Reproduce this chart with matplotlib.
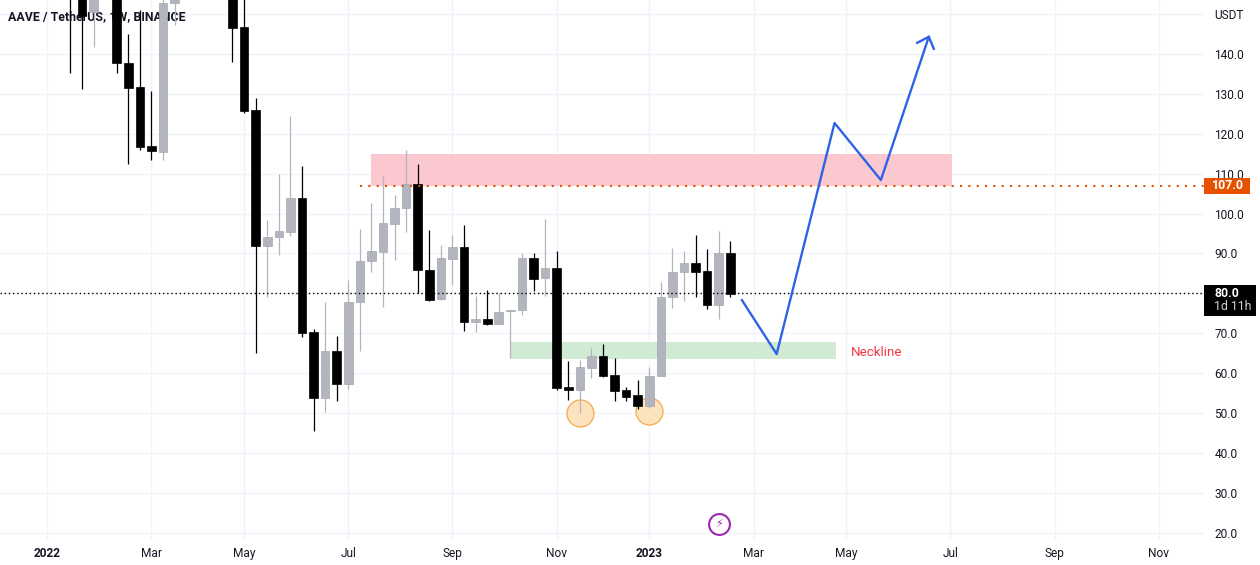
# -*- coding: utf-8 -*-
import pandas as pd
import matplotlib
matplotlib.use("Agg")
from matplotlib import pyplot as plt
from matplotlib import dates as mdates
from matplotlib.patches import Rectangle

plt.rcParams['font.family'] = ['Roboto', 'DejaVu Sans']

# weekly candles, the first ones and a few in the middle run above the visible range
first_week = '2022-01-17'
opens = [175, 160, 150.5, 170, 158, 137.7, 131.7, 116.9, 115.4, 152.8, 165, 170, 172, 170, 165, 146.8,
         126, 91.9, 94.1, 95.4, 103.9, 70.3, 53.8, 65.6, 57.3, 77.8, 88.1, 90.4, 97.4, 101.4, 107.4, 85.9,
         78.6, 88.6, 91.6, 72.8, 73.6, 72.3, 75.5, 75.8, 88.9, 83.9, 86.4, 56.5, 55.8, 61.3, 64.3, 59.5,
         55.8, 54.5, 51.8, 59.3, 79.1, 85.4, 87.6, 85.6, 77.1, 90.1]
highs = [178, 165, 160, 178, 162, 145, 151, 130.7, 158, 160, 178, 180, 180, 178, 170, 155,
         129, 98.4, 109.9, 124.4, 111.9, 71, 77.8, 69.3, 83.3, 96.1, 102.7, 109.4, 104.7, 115.9, 112.4, 95.9,
         92.1, 94.6, 97.1, 79.3, 80.8, 80.1, 75.8, 90.1, 90.1, 98.6, 90.6, 63, 63.3, 66.3, 67.3, 63.8,
         56.5, 58.3, 61.5, 82.8, 91.4, 90.6, 94.6, 91.1, 95.6, 93.1]
lows = [135.2, 131.2, 141.7, 155, 135.3, 112.4, 116, 113.4, 113.4, 147.3, 158, 160, 162, 160, 138, 125.2,
        65, 79.1, 89.6, 94.4, 69.1, 45.5, 50.3, 53, 56, 65.6, 85.4, 76.6, 88.4, 95.4, 80.1, 78.1,
        78.3, 82.1, 70.6, 70.3, 72.1, 72.3, 63.8, 74.6, 80.6, 79.3, 55.8, 53.3, 50, 58.8, 59, 53,
        53, 51, 51.3, 59.3, 76.3, 78.1, 79.1, 76.1, 73.6, 79.1]
closes = [165, 149.5, 158, 175, 137.7, 131.5, 116.7, 115.7, 152.8, 156, 160, 165, 170, 165, 146.5, 125.7,
          91.9, 94.1, 95.6, 103.9, 70.1, 53.8, 65.6, 57.3, 77.8, 88.1, 90.6, 97.6, 101.4, 107.4, 85.9, 78.3,
          88.9, 91.6, 72.8, 73.6, 72.3, 75.3, 75.8, 88.9, 83.6, 86.4, 56.3, 55.8, 61.5, 64.3, 59.3, 55.5,
          54, 51.8, 59.3, 79.1, 85.4, 87.6, 85.4, 77.1, 90.1, 79.9]

price_ticks = [20, 30, 40, 50, 60, 70, 80, 90, 100, 110, 120, 130, 140, 150]
price_labels = ['20.0', '30.0', '40.0', '50.0', '60.0', '70.0', '80.0', '90.0', '100.0', '110.0',
                '120.0', '130.0', '140.0', 'USDT']
date_ticks = ['2022-01-03', '2022-03-07', '2022-05-02', '2022-07-04', '2022-09-05', '2022-11-07',
              '2023-01-02', '2023-03-06', '2023-05-01', '2023-07-03', '2023-09-04', '2023-11-06']
date_labels = ['2022', 'Mar', 'May', 'Jul', 'Sep', 'Nov', '2023', 'Mar', 'May', 'Jul', 'Sep', 'Nov']

# drawings on top of the chart
projection_dates = ['2023-02-27', '2023-03-20', '2023-04-24', '2023-05-22', '2023-06-20']
projection_prices = [78.3, 64.8, 122.7, 108.4, 144.3]
arrow_dates = ['2023-06-13', '2023-06-20', '2023-06-23']
arrow_prices = [142.8, 144.3, 141.3]
resistance_dates = ['2022-07-18', '2023-07-04']
resistance_prices = [107, 115]
support_dates = ['2022-10-10', '2023-04-25']
support_prices = [63.5, 67.9]
level_start = '2022-07-11'
level_price = 107.0
last_price = 80.0
circle_dates = ['2022-11-21', '2023-01-02']
circle_prices = [50.0, 50.5]

GRAY = '#b2b5be'
BLACK = '#000000'


def num(d):
    return mdates.date2num(pd.Timestamp(d))


weeks = pd.date_range(first_week, periods=len(opens), freq='7D')

fig = plt.figure(figsize=(12.6, 5.65), dpi=100, facecolor='white')
ax = fig.add_axes([0, 1 - 540 / 565, 1204 / 1260, 540 / 565])

# 1.654 px per day, 2023-01-02 sits at x=649.3
ax.set_xlim(num('2023-01-02') - 649.3 / 1.654, num('2023-01-02') + (1204 - 649.3) / 1.654)
ax.set_ylim(18.19, 153.53)
for s in ax.spines.values():
    s.set_visible(False)

ax.set_xticks([num(d) for d in date_ticks])
ax.set_xticklabels(date_labels, fontsize=8.6, color='#131722')
for lbl in ax.get_xticklabels()[:1] + ax.get_xticklabels()[6:7]:
    lbl.set_fontweight('bold')
ax.set_yticks(price_ticks)
ax.set_yticklabels(price_labels, fontsize=8.6, color='#131722')
ax.yaxis.tick_right()
ax.tick_params(axis='both', length=0)
ax.tick_params(axis='x', pad=5)
ax.tick_params(axis='y', pad=7.5)
ax.grid(True, color='#f0f3fa', lw=1)
ax.set_axisbelow(True)

ax.add_patch(Rectangle((num(resistance_dates[0]), resistance_prices[0]),
                       num(resistance_dates[1]) - num(resistance_dates[0]),
                       resistance_prices[1] - resistance_prices[0],
                       facecolor='#fcc8d0', edgecolor='none', zorder=1))
ax.add_patch(Rectangle((num(support_dates[0]), support_prices[0]),
                       num(support_dates[1]) - num(support_dates[0]),
                       support_prices[1] - support_prices[0],
                       facecolor='#d0ead3', edgecolor='none', zorder=1))

ax.text(8 / 1204, 1 - 17 / 540, 'AAVE / TetherUS, 1W, BINANCE', transform=ax.transAxes,
        fontsize=8.9, fontweight='bold', color='#131722', va='center', ha='left', zorder=1.5)

ax.plot([num(d) for d in circle_dates], circle_prices, ls='none', marker='o', ms=19.4,
        mfc='#fde3bd', mec='#f2b05c', mew=1, zorder=1.6)

# candles
for w, o, h, l, c in zip(weeks, opens, highs, lows, closes):
    col = BLACK if c < o else GRAY
    x = mdates.date2num(w)
    ax.plot([x, x], [l, h], color=col, lw=0.9, zorder=3, solid_capstyle='butt')
    ax.add_patch(Rectangle((x - 2.6, min(o, c)), 5.2, abs(o - c), facecolor=col,
                           edgecolor='#a4a7b0' if col == GRAY else BLACK, lw=0.5, zorder=3.2))

# levels
ax.axhline(last_price, color='black', lw=1, ls=(0, (1, 2)), zorder=4)
ax.plot([num(level_start), ax.get_xlim()[1]], [level_price, level_price], color='#e65100',
        lw=1.5, ls=(0, (1, 3)), zorder=4)

# projection
ax.plot([num(d) for d in projection_dates], projection_prices, color='#2f62e6', lw=1.7, zorder=5)
ax.plot([num(d) for d in arrow_dates], arrow_prices, color='#2f62e6', lw=1.7, zorder=5)

ax.text(num('2023-05-04'), 65.3, 'Neckline', color='#f23645', fontsize=9.6, va='center', ha='left', zorder=5)

# lightning badge
ax.plot([num('2023-02-13')], [22.2], ls='none', marker='o', ms=15, mfc='white', mec='#9c27b0', mew=1.5, zorder=5)
ax.text(num('2023-02-13'), 22.2, '\u26a1', color='#9c27b0', fontsize=8, ha='center', va='center',
        family=['DejaVu Sans'], zorder=6)

# price labels on the right
yt = ax.get_yaxis_transform()
ax.add_patch(Rectangle((1, level_price - 2), 46 / 1204, 4, transform=yt, clip_on=False,
                       facecolor='#e65100', edgecolor='none', zorder=6))
ax.text(1 + 24 / 1204, level_price, '%.1f' % level_price, transform=yt, color='white', fontsize=8.8,
        fontweight='bold', ha='center', va='center', zorder=7, clip_on=False)
ax.add_patch(Rectangle((1, 74.4), 52 / 1204, 7.7, transform=yt, clip_on=False,
                       facecolor='black', edgecolor='none', zorder=6))
ax.text(1 + 10 / 1204, last_price, '%.1f' % last_price, transform=yt, color='white', fontsize=8.8,
        fontweight='bold', ha='left', va='center', zorder=7, clip_on=False)
ax.text(1 + 10 / 1204, 76.6, '1d 11h', transform=yt, color='#d1d4dc', fontsize=8.8,
        ha='left', va='center', zorder=7, clip_on=False)

fig.savefig('out.png', dpi=100, facecolor='white')
